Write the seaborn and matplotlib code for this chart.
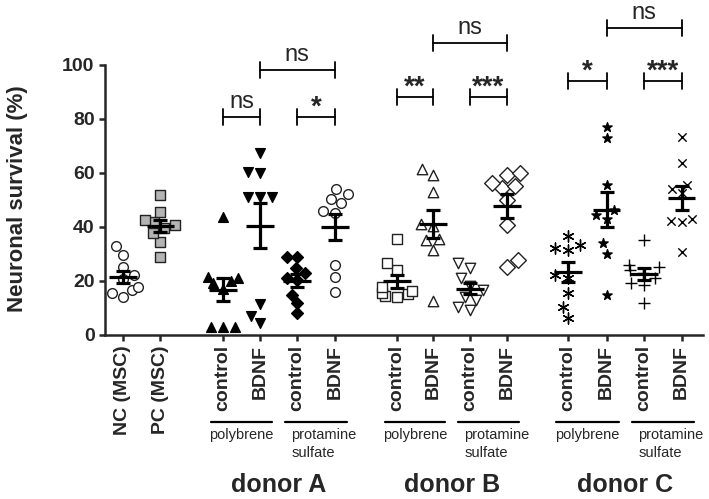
import numpy as np
import matplotlib
matplotlib.use("Agg")
import matplotlib.pyplot as plt
import seaborn as sns

# Neuronal survival (%) per condition
nc_msc = [13.8, 15.3, 16.5, 17.8, 20.5, 22.1, 25.2, 29.5, 32.8]
pc_msc = [28.9, 34.4, 37.6, 39.5, 40.5, 41.9, 42.5, 45.6, 51.7]
a_poly_ctrl = [2.7, 2.7, 2.7, 17.0, 19.0, 20.0, 21.0, 21.5, 43.5]
a_poly_bdnf = [4.4, 6.9, 11.4, 51.0, 51.0, 51.0, 59.8, 60.4, 67.4]
a_prot_ctrl = [7.9, 11.6, 14.7, 20.3, 20.9, 22.7, 24.6, 28.7, 28.9]
a_prot_bdnf = [15.9, 21.5, 25.8, 45.2, 45.9, 48.6, 50.1, 52.1, 53.8]
b_poly_ctrl = [14.0, 14.5, 15.0, 15.5, 16.0, 17.5, 24.0, 26.4, 35.3]
b_poly_bdnf = [12.6, 31.4, 35.1, 35.3, 40.3, 41.0, 53.0, 59.1, 61.3]
b_prot_ctrl = [9.1, 10.4, 12.9, 14.1, 16.5, 18.0, 20.9, 24.6, 26.4]
b_prot_bdnf = [25.2, 27.7, 40.6, 49.9, 54.2, 55.0, 56.1, 59.1, 59.8]
c_poly_ctrl = [6.1, 10.4, 15.3, 21.0, 22.1, 31.4, 32.0, 33.2, 36.6]
c_poly_bdnf = [14.7, 29.9, 33.8, 43.0, 44.3, 46.2, 55.4, 72.8, 77.0]
c_prot_ctrl = [11.6, 18.4, 19.0, 21.0, 23.0, 24.0, 25.0, 25.8, 35.1]
c_prot_bdnf = [30.7, 41.9, 42.0, 42.7, 52.4, 54.0, 55.4, 63.6, 73.2]

tick_labels = ["NC (MSC)", "PC (MSC)"] + ["control", "BDNF"] * 6
donors = ["donor A", "donor B", "donor C"]

# (x1, x2, y, label) significance brackets
brackets = [
    (2.67, 3.65, 80.7, "ns"), (4.64, 5.65, 80.7, "*"), (3.65, 5.65, 98.0, "ns"),
    (7.30, 8.27, 88.1, "**"), (9.25, 10.24, 88.1, "***"), (8.27, 10.24, 107.9, "ns"),
    (11.87, 12.90, 94.0, "*"), (13.90, 14.90, 94.0, "***"), (12.90, 14.90, 113.5, "ns"),
]

groups = [nc_msc, pc_msc,
          a_poly_ctrl, a_poly_bdnf, a_prot_ctrl, a_prot_bdnf,
          b_poly_ctrl, b_poly_bdnf, b_prot_ctrl, b_prot_bdnf,
          c_poly_ctrl, c_poly_bdnf, c_prot_ctrl, c_prot_bdnf]
positions = [0, 1,
             2.67, 3.65, 4.64, 5.65,
             7.30, 8.27, 9.25, 10.24,
             11.87, 12.90, 13.90, 14.90]
# marker, face colour, size
styles = [("o", "white", 7), ("s", "#b4b4b4", 7),
          ("^", "black", 7), ("v", "black", 7), ("D", "black", 6), ("o", "white", 7),
          ("s", "white", 7), ("^", "white", 7.5), ("v", "white", 7.5), ("D", "white", 8),
          ((6, 2, 0), "black", 8), ("*", "black", 7), ("+", "black", 8), ("x", "black", 6)]

sns.set_style("ticks")
plt.rcParams["font.family"] = ["Liberation Sans", "DejaVu Sans"]

fig = plt.figure(figsize=(7.09, 4.99), dpi=100)
ax = fig.add_axes([0.1481, 0.3293, 0.8434, 0.541])

for vals, pos, (mk, fc, sz) in zip(groups, positions, styles):
    kw = dict(marker=mk, color=fc, size=sz, linewidth=1.0)
    if fc == "white" or mk == "s":
        kw["edgecolor"] = "#222222"
    sns.swarmplot(x=np.full(len(vals), pos), y=vals, native_scale=True,
                  orient="x", ax=ax, zorder=3, **kw)
    m = np.mean(vals)
    s = np.std(vals, ddof=1) / np.sqrt(len(vals))
    ax.errorbar(pos, m, yerr=s, fmt="none", ecolor="black", elinewidth=2.3,
                capsize=5, capthick=2.3, zorder=5)
    ax.hlines(m, pos - 0.37, pos + 0.37, color="black", lw=2.3, zorder=5)

ax.set_xlim(-0.48, 15.47)
ax.set_ylim(0, 100)
ax.set_yticks([0, 20, 40, 60, 80, 100])
ax.set_xticks(positions)
ax.set_xticklabels(tick_labels, rotation=90, fontsize=14, fontweight="bold")
ax.tick_params(axis="y", labelsize=14, width=1.8, length=4)
ax.tick_params(axis="x", width=1.8, length=4)
for lab in ax.get_yticklabels():
    lab.set_fontweight("bold")
ax.set_xlabel("")
ax.set_ylabel("")
sns.despine(ax=ax)
for sp in ["left", "bottom"]:
    ax.spines[sp].set_linewidth(1.8)

fig.text(18 / 709, 1 - 199 / 499, "Neuronal survival (%)", rotation=90,
         ha="center", va="center", fontsize=16, fontweight="bold")

# significance brackets
for x1, x2, y, lab in brackets:
    ax.plot([x1, x2], [y, y], color="black", lw=1.3, clip_on=False)
    ax.plot([x1, x1], [y - 3, y + 3], color="black", lw=1.3, clip_on=False)
    ax.plot([x2, x2], [y - 3, y + 3], color="black", lw=1.3, clip_on=False)
    if lab == "ns":
        ax.text((x1 + x2) / 2, y + 1.5, lab, ha="center", va="bottom", fontsize=17)
    else:
        ax.text((x1 + x2) / 2, y - 1.5, lab, ha="center", va="bottom", fontsize=20,
                fontweight="bold")

# treatment / donor annotations under the axis
tr = ax.get_xaxis_transform()
for d in range(3):
    p = positions[2 + 4 * d: 6 + 4 * d]
    ax.plot([p[0] - 0.32, p[1] + 0.32], [-0.322, -0.322], color="black", lw=1.6,
            transform=tr, clip_on=False)
    ax.plot([p[2] - 0.32, p[3] + 0.32], [-0.322, -0.322], color="black", lw=1.6,
            transform=tr, clip_on=False)
    ax.text((p[0] + p[1]) / 2, -0.346, "polybrene", ha="center", va="top",
            fontsize=10.5, transform=tr)
    ax.text(p[2] - 0.15, -0.346, "protamine\nsulfate", ha="left", va="top",
            fontsize=10.5, transform=tr, linespacing=1.4)
    ax.text((p[0] + p[3]) / 2, -0.555, donors[d], ha="center", va="center",
            fontsize=18, fontweight="bold", transform=tr)

fig.savefig("out.png", dpi=100)
